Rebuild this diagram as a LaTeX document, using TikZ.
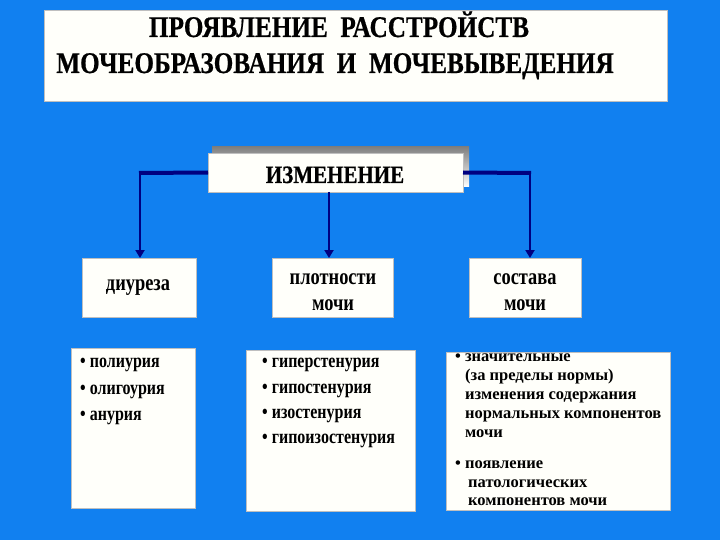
\documentclass[tikz,border=0pt]{standalone}
\usepackage{fontspec}
\setmainfont{Liberation Serif}
\newfontfamily\titlefont{Liberation Serif}[FakeStretch=0.84,FakeBold=0.6]
\newfontfamily\condfont{Liberation Serif}[FakeStretch=0.8]
\usetikzlibrary{arrows.meta}
\definecolor{bg}{RGB}{17,128,240}
\definecolor{navy}{RGB}{0,0,128}
\definecolor{paper}{RGB}{255,255,250}
\definecolor{shade}{RGB}{140,138,122}
\begin{document}
\begin{tikzpicture}[x=1pt,y=-1pt,
  panel/.style={draw=black!25, line width=0.5pt, fill=paper, inner sep=0pt, outer sep=0pt},
  hline/.style={draw=navy, line width=4pt},
  vline/.style={draw=navy, line width=2.5pt, -{Triangle[width=9pt,length=8pt]}},
  ttl/.style={font=\titlefont\bfseries\fontsize{30}{36}\selectfont, inner sep=0pt, anchor=base},
  head/.style={font=\titlefont\bfseries\fontsize{25}{30}\selectfont, inner sep=0pt, anchor=base},
  sub/.style={font=\condfont\bfseries\fontsize{23}{26}\selectfont, inner sep=0pt, anchor=base},
  item/.style={font=\condfont\bfseries\fontsize{20}{26}\selectfont, inner sep=0pt, anchor=base west},
  small/.style={font=\bfseries\fontsize{16.5}{19}\selectfont, inner sep=0pt, anchor=base west}
]
\fill[bg] (0,0) rectangle (720,540);
\useasboundingbox (0,0) rectangle (720,540);

% title
\node[panel, minimum width=623pt, minimum height=91pt] (title) at (355.5,55.5) {};
\node[ttl] (t1) at (339,37) {ПРОЯВЛЕНИЕ\ \ РАССТРОЙСТВ};
\node[ttl] (t2) at (335,73) {МОЧЕОБРАЗОВАНИЯ\ \ И\ \ МОЧЕВЫВЕДЕНИЯ};

% central box
\fill[shade] (212,147) rectangle (469,187);
\node[panel, minimum width=255pt, minimum height=39pt] (izm) at (335.5,172.5) {};
\node[head] (izmt) at (335,183) {ИЗМЕНЕНИЕ};

% second level boxes
\node[panel, minimum width=114pt, minimum height=59pt] (b1) at (139,287.5) {};
\node[panel, minimum width=121pt, minimum height=59pt] (b2) at (332.5,287.5) {};
\node[panel, minimum width=112pt, minimum height=59pt] (b3) at (525,287.5) {};
\node[sub] (b1t) at (138,290) {диуреза};
\node[sub] (b2t1) at (333,284) {плотности};
\node[sub] (b2t2) at (333,310) {мочи};
\node[sub] (b3t1) at (525,284) {состава};
\node[sub] (b3t2) at (525,310) {мочи};

% connectors
\coordinate (cl) at (140,173);
\coordinate (cr) at (530,173);
\coordinate (cm) at (329,173);
\draw[hline] (izm.west) -- ([xshift=-1pt]cl);
\draw[hline] (izm.east) -- ([xshift=1pt]cr);
\draw[vline] ([yshift=-1pt]cl) -- (cl |- b1.north);
\draw[vline] ([yshift=-1pt]cr) -- (cr |- b3.north);
\draw[vline] (cm |- izm.south) -- (cm |- b2.north);

% lists
\node[panel, minimum width=124pt, minimum height=160pt] (l1) at (133,428) {};
\node[panel, minimum width=169pt, minimum height=161pt] (l2) at (330.5,430.5) {};
\node[panel, minimum width=224pt, minimum height=158pt] (l3) at (558,431) {};

\node[item] (l1a) at (80,367) {\textbullet\ полиурия};
\node[item] (l1b) at (80,394) {\textbullet\ олигоурия};
\node[item] (l1c) at (80,420) {\textbullet\ анурия};

\node[item] (l2a) at (262,367) {\textbullet\ гиперстенурия};
\node[item] (l2b) at (262,393) {\textbullet\ гипостенурия};
\node[item] (l2c) at (262,418) {\textbullet\ изостенурия};
\node[item] (l2d) at (262,443) {\textbullet\ гипоизостенурия};

\node[small] (l3a) at (455,361) {\textbullet\ значительные};
\node[small] (l3b) at (465,380) {(за пределы нормы)};
\node[small] (l3c) at (465,399) {изменения содержания};
\node[small] (l3d) at (465,418) {нормальных компонентов};
\node[small] (l3e) at (465,437) {мочи};
\node[small] (l3f) at (455,468) {\textbullet\ появление};
\node[small] (l3g) at (468,487) {патологических};
\node[small] (l3h) at (468,505) {компонентов мочи};
\end{tikzpicture}
\end{document}
